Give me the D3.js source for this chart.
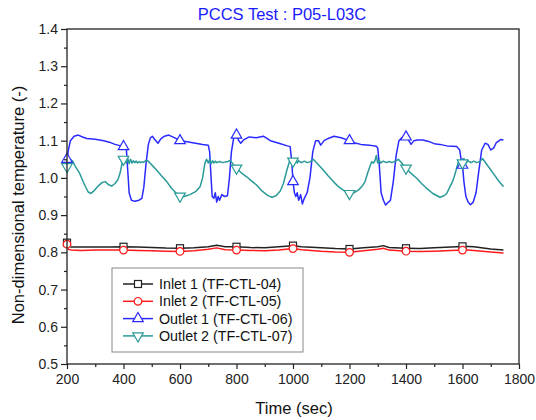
<!DOCTYPE html>
<html>
<head>
<meta charset="utf-8">
<script src="https://cdn.jsdelivr.net/npm/d3@7"></script>
<style>
body { margin: 0; background: #fff; }
text { font-family: "Liberation Sans", Arial, sans-serif; }
</style>
</head>
<body>
<script>
// series: [time (sec), non-dimensional temperature]
var inlet1 = [[200,0.826],[205,0.816],[215,0.814],[250,0.814],[300,0.8145],[350,0.814],[400,0.815],[450,0.814],[500,0.813],[550,0.8115],[600,0.811],[650,0.812],[700,0.815],[730,0.819],[760,0.815],[800,0.815],[850,0.813],[900,0.812],[950,0.815],[1000,0.818],[1030,0.815],[1100,0.812],[1150,0.810],[1200,0.809],[1250,0.812],[1300,0.815],[1320,0.818],[1340,0.813],[1400,0.811],[1450,0.810],[1500,0.812],[1560,0.814],[1600,0.816],[1620,0.816],[1640,0.815],[1700,0.809],[1745,0.806]];

var inlet2 = [[200,0.822],[205,0.808],[215,0.806],[250,0.805],[300,0.806],[350,0.806],[400,0.806],[450,0.805],[500,0.804],[550,0.803],[600,0.8025],[650,0.804],[700,0.808],[730,0.812],[760,0.807],[800,0.806],[850,0.805],[900,0.804],[950,0.806],[1000,0.810],[1030,0.807],[1100,0.803],[1150,0.801],[1200,0.800],[1250,0.804],[1300,0.808],[1320,0.811],[1340,0.806],[1400,0.803],[1450,0.802],[1500,0.803],[1560,0.805],[1600,0.806],[1620,0.806],[1640,0.805],[1700,0.801],[1745,0.798]];

var outlet1 = [[200,1.050],[205,1.075],[212,1.100],[225,1.112],[240,1.115],[255,1.110],[270,1.106],[300,1.104],[330,1.100],[350,1.096],[370,1.090],[390,1.086],[400,1.084],[410,1.080],[415,1.020],[420,0.960],[428,0.940],[440,0.937],[455,0.940],[465,0.945],[472,0.975],[480,1.040],[488,1.090],[495,1.107],[502,1.112],[510,1.104],[522,1.093],[532,1.105],[545,1.112],[560,1.115],[580,1.108],[600,1.100],[620,1.098],[650,1.094],[680,1.090],[700,1.088],[705,1.070],[710,1.000],[714,0.950],[720,0.945],[725,0.960],[730,0.935],[735,0.950],[740,0.940],[748,0.955],[758,0.950],[768,0.952],[775,1.000],[782,1.070],[790,1.107],[800,1.115],[808,1.100],[815,1.093],[825,1.102],[845,1.110],[870,1.108],[895,1.112],[920,1.100],[950,1.093],[980,1.086],[990,1.084],[996,1.040],[1000,0.990],[1005,0.960],[1010,0.950],[1015,0.960],[1020,0.940],[1027,0.955],[1033,0.930],[1040,0.945],[1050,0.960],[1060,1.000],[1070,1.070],[1080,1.100],[1090,1.100],[1098,1.088],[1110,1.100],[1125,1.106],[1145,1.112],[1170,1.108],[1200,1.100],[1220,1.094],[1240,1.090],[1270,1.088],[1295,1.085],[1300,1.080],[1305,1.040],[1312,0.960],[1320,0.940],[1328,0.927],[1338,0.935],[1345,0.940],[1355,0.990],[1365,1.060],[1375,1.100],[1385,1.108],[1400,1.110],[1410,1.100],[1418,1.090],[1428,1.100],[1440,1.102],[1460,1.102],[1480,1.098],[1500,1.092],[1520,1.090],[1545,1.086],[1580,1.084],[1590,1.075],[1595,1.050],[1600,1.034],[1605,0.990],[1612,0.950],[1620,0.935],[1628,0.928],[1638,0.935],[1648,0.960],[1658,1.020],[1668,1.075],[1680,1.093],[1690,1.090],[1700,1.075],[1710,1.080],[1720,1.095],[1735,1.103],[1745,1.102]];

var outlet2 = [[200,1.030],[205,1.045],[212,1.050],[220,1.045],[230,1.030],[245,1.012],[260,0.985],[275,0.962],[285,0.958],[295,0.965],[310,0.978],[325,0.988],[335,0.990],[345,0.983],[358,0.978],[370,0.985],[380,0.995],[388,1.013],[395,1.040],[400,1.050],[405,1.048],[410,1.040],[415,1.052],[420,1.038],[425,1.050],[430,1.040],[435,1.046],[440,1.041],[445,1.045],[450,1.040],[455,1.044],[460,1.041],[465,1.043],[470,1.042],[478,1.046],[485,1.047],[500,1.035],[517,1.021],[535,1.005],[553,0.990],[570,0.972],[588,0.958],[600,0.951],[615,0.950],[635,0.955],[655,0.963],[671,0.976],[680,1.000],[688,1.039],[694,1.050],[700,1.040],[705,1.050],[710,1.038],[715,1.046],[720,1.040],[725,1.045],[730,1.041],[740,1.044],[750,1.041],[760,1.043],[770,1.044],[778,1.047],[790,1.035],[800,1.026],[818,1.013],[836,1.003],[853,0.992],[871,0.981],[890,0.965],[910,0.953],[925,0.948],[940,0.952],[955,0.965],[966,0.985],[978,1.020],[989,1.048],[1000,1.045],[1005,1.038],[1010,1.050],[1015,1.040],[1020,1.046],[1030,1.041],[1040,1.045],[1050,1.041],[1060,1.043],[1072,1.050],[1090,1.035],[1107,1.021],[1125,1.005],[1143,0.990],[1160,0.977],[1178,0.967],[1200,0.958],[1215,0.960],[1231,0.967],[1245,0.978],[1255,0.990],[1265,1.015],[1278,1.043],[1285,1.040],[1290,1.046],[1295,1.060],[1300,1.040],[1305,1.048],[1310,1.040],[1320,1.045],[1330,1.041],[1340,1.044],[1350,1.041],[1360,1.044],[1373,1.050],[1385,1.040],[1400,1.026],[1418,1.012],[1438,0.999],[1455,0.985],[1473,0.972],[1495,0.958],[1520,0.948],[1535,0.952],[1544,0.958],[1555,0.975],[1567,0.994],[1577,1.020],[1585,1.043],[1590,1.038],[1595,1.048],[1600,1.040],[1605,1.052],[1610,1.038],[1620,1.046],[1630,1.041],[1640,1.045],[1650,1.041],[1662,1.044],[1671,1.052],[1690,1.032],[1709,1.012],[1727,0.993],[1745,0.976]];

var seriesNames = ["Inlet 1 (TF-CTL-04)", "Inlet 2 (TF-CTL-05)", "Outlet 1 (TF-CTL-06)", "Outlet 2 (TF-CTL-07)"];
var seriesColors = ["#222222", "#ff1a1a", "#2a2aff", "#2a9a98"];
var seriesMarkers = ["square", "circle", "up", "down"];

var xTicks = [200, 400, 600, 800, 1000, 1200, 1400, 1600, 1800];
var xMinor = [300, 500, 700, 900, 1100, 1300, 1500, 1700];
var yTicks = [0.5, 0.6, 0.7, 0.8, 0.9, 1.0, 1.1, 1.2, 1.3, 1.4];
var yMinor = [0.55, 0.65, 0.75, 0.85, 0.95, 1.05, 1.15, 1.25, 1.35];

function main(){
	var w = 536;
	var h = 420;
	var left = 67, right = 519, top = 29, bottom = 364;

	var svg = d3.select("body")
				.append("svg")
				.attr("width", w)
				.attr("height", h);

	var xScale = d3.scaleLinear()
				.domain([200, 1800])
				.range([left, right]);

	var yScale = d3.scaleLinear()
				.domain([0.5, 1.4])
				.range([bottom, top]);

	var line = d3.line()
				.x(function(d){return xScale(d[0]);})
				.y(function(d){return yScale(d[1]);});

	var allSeries = [inlet1, inlet2, outlet1, outlet2];

	// series lines
	allSeries.forEach(function(s, i){
		svg.append("path")
			.datum(s)
			.attr("d", line)
			.attr("fill", "none")
			.attr("stroke", seriesColors[i])
			.attr("stroke-width", 1.5)
			.attr("stroke-linejoin", "round");
	});

	function drawMarker(g, type, color){
		if (type == "square") {
			g.append("rect").attr("x", -3.5).attr("y", -3.5).attr("width", 7).attr("height", 7)
				.attr("fill", "#fff").attr("stroke", color).attr("stroke-width", 1.2);
		} else if (type == "circle") {
			g.append("circle").attr("r", 3.8)
				.attr("fill", "#fff").attr("stroke", color).attr("stroke-width", 1.2);
		} else {
			var sym = d3.symbol().type(d3.symbolTriangle).size(48);
			g.append("path").attr("d", sym())
				.attr("transform", type == "down" ? "rotate(180)" : null)
				.attr("fill", "#fff").attr("stroke", color).attr("stroke-width", 1.2);
		}
	}

	// markers every 200 sec
	allSeries.forEach(function(s, i){
		s.filter(function(d){return d[0] % 200 === 0 && d[0] <= 1600;})
			.forEach(function(d){
				var g = svg.append("g")
					.attr("transform", "translate(" + xScale(d[0]) + "," + yScale(d[1]) + ")");
				drawMarker(g, seriesMarkers[i], seriesColors[i]);
			});
	});

	// frame
	svg.append("rect")
		.attr("x", left)
		.attr("y", top)
		.attr("width", right - left)
		.attr("height", bottom - top)
		.attr("fill", "none")
		.attr("stroke", "#222")
		.attr("stroke-width", 1.3);

	// axes
	var xAxis = d3.axisBottom(xScale).tickValues(xTicks).tickSize(5).tickPadding(5)
					.tickFormat(d3.format("d"));
	var xAxisMinor = d3.axisBottom(xScale).tickValues(xMinor).tickSize(3).tickFormat("");
	var yAxis = d3.axisLeft(yScale).tickValues(yTicks).tickSize(6).tickPadding(3)
					.tickFormat(d3.format(".1f"));
	var yAxisMinor = d3.axisLeft(yScale).tickValues(yMinor).tickSize(3).tickFormat("");

	[[xAxis, "x"], [xAxisMinor, "x"], [yAxis, "y"], [yAxisMinor, "y"]].forEach(function(a){
		var g = svg.append("g")
			.attr("transform", a[1] == "x" ? "translate(0," + bottom + ")" : "translate(" + left + ",0)")
			.call(a[0]);
		g.select(".domain").remove();
		g.selectAll("line").attr("stroke", "#222").attr("stroke-width", 1.2);
		g.selectAll("text").attr("font-size", 14).attr("fill", "#222")
			.attr("font-family", "Liberation Sans, Arial, sans-serif");
	});

	// titles
	svg.append("text")
		.attr("x", 282)
		.attr("y", 20)
		.text("PCCS Test : P05-L03C")
		.attr("text-anchor", "middle")
		.attr("font-size", 16.5)
		.attr("fill", "#1a1aff");

	svg.append("text")
		.attr("x", 294)
		.attr("y", 414)
		.text("Time (sec)")
		.attr("text-anchor", "middle")
		.attr("font-size", 16.5)
		.attr("fill", "#111");

	svg.append("text")
		.attr("x", 0)
		.attr("y", 0)
		.text("Non-dimensional temperature (-)")
		.attr("text-anchor", "middle")
		.attr("font-size", 16.5)
		.attr("fill", "#111")
		.attr("transform", "translate(24,205) rotate(-90)");

	// legend
	var legend = svg.append("g");
	legend.append("rect")
		.attr("x", 112)
		.attr("y", 268)
		.attr("width", 191)
		.attr("height", 84)
		.attr("fill", "#fff")
		.attr("stroke", "#888")
		.attr("stroke-width", 1);

	seriesNames.forEach(function(name, i){
		var yy = 284 + i * 17.3;
		legend.append("line")
			.attr("x1", 123).attr("x2", 153)
			.attr("y1", yy).attr("y2", yy)
			.attr("stroke", seriesColors[i])
			.attr("stroke-width", 1.5);
		var g = legend.append("g").attr("transform", "translate(138," + yy + ")");
		drawMarker(g, seriesMarkers[i], seriesColors[i]);
		legend.append("text")
			.attr("x", 159)
			.attr("y", yy + 5)
			.text(name)
			.attr("font-size", 14.3)
			.attr("fill", "#111");
	});
}

main();
</script>
</body>
</html>
